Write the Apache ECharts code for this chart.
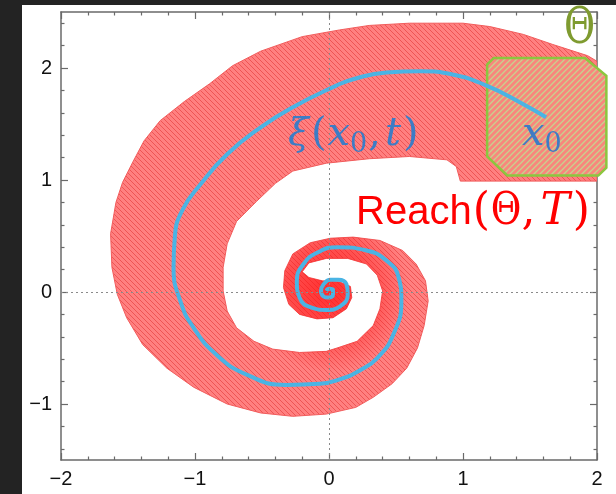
<!DOCTYPE html>
<html>
<head>
<meta charset="utf-8">
<script src="https://cdn.jsdelivr.net/npm/echarts@6/dist/echarts.min.js"></script>
<style>html,body{margin:0;padding:0;background:#232323;}#c{width:616px;height:494px;}</style>
</head>
<body>
<div id="c"></div>
<script>
// ---- tick labels ----
const xTicks = [-2, -1, 0, 1, 2];
const xMinorTicks = [-1.8,-1.6,-1.4,-1.2,-0.8,-0.6,-0.4,-0.2,0.2,0.4,0.6,0.8,1.2,1.4,1.6,1.8];
const yTicks = [-1, 0, 1, 2];
const yMinorTicks = [-1.4,-1.2,-0.8,-0.6,-0.4,-0.2,0.2,0.4,0.6,0.8,1.2,1.4,1.6,1.8,2.2,2.4];

// ---- reach set boundary: outer edge (from start, inward) ----
const reachOuter = [
  [2.00, 2.06],[1.93, 2.11],[1.80, 2.16],[1.67, 2.21],[1.45, 2.30],[1.20, 2.37],[1.00, 2.40],
  [0.60, 2.40],[0.30, 2.38],[0.08, 2.34],[-0.20, 2.28],[-0.51, 2.15],[-0.72, 2.02],[-0.89, 1.86],
  [-1.08, 1.70],[-1.26, 1.53],[-1.38, 1.35],[-1.46, 1.17],[-1.54, 0.98],[-1.59, 0.80],[-1.63, 0.52],
  [-1.62, 0.22],[-1.58, -0.02],[-1.51, -0.23],[-1.39, -0.47],[-1.21, -0.68],[-1.01, -0.85],
  [-0.76, -1.00],[-0.51, -1.08],[-0.27, -1.11],[-0.02, -1.09],[0.20, -1.03],[0.33, -0.94],
  [0.47, -0.82],[0.58, -0.68],[0.66, -0.50],[0.71, -0.30],[0.74, -0.08],[0.72, 0.10],[0.65, 0.25],
  [0.55, 0.37],[0.38, 0.46],[0.18, 0.49],[0.01, 0.48],[-0.14, 0.44],[-0.27, 0.34],[-0.33, 0.19],
  [-0.34, 0.04],[-0.30, -0.11],[-0.22, -0.20],[-0.09, -0.24],[0.03, -0.23],[0.13, -0.15],
  [0.17, -0.05],[0.16, 0.05],[0.08, 0.09],[-0.05, 0.10],[-0.15, 0.13],[-0.20, 0.18]
];
// ---- reach set boundary: inner edge (from the tip, outward) ----
const reachInner = [
  [-0.15, 0.26],[-0.02, 0.30],[0.14, 0.30],[0.28, 0.25],[0.36, 0.15],[0.40, 0.01],[0.38, -0.15],
  [0.33, -0.30],[0.21, -0.44],[0.06, -0.50],[-0.02, -0.53],[-0.22, -0.54],[-0.42, -0.51],
  [-0.56, -0.44],[-0.69, -0.32],[-0.76, -0.17],[-0.79, 0.01],[-0.79, 0.22],[-0.76, 0.43],
  [-0.69, 0.63],[-0.54, 0.81],[-0.40, 0.97],[-0.27, 1.08],[-0.02, 1.15],[0.30, 1.19],[0.60, 1.21],
  [0.88, 1.18],[0.95, 1.12],[0.98, 0.99],[2.00, 0.99]
];
// ---- initial set Theta (octagon) ----
const thetaSet = [
  [1.23, 2.09],[1.91, 2.09],[2.07, 1.93],[2.07, 1.11],[2.01, 1.04],[1.33, 1.04],[1.18, 1.21],[1.18, 2.03]
];
// ---- trajectory xi(x0,t) ----
const trajectory = [
  [1.62, 1.56],[1.43, 1.69],[1.18, 1.84],[0.93, 1.94],[0.68, 1.97],[0.43, 1.96],[0.18, 1.90],
  [0.05, 1.84],[-0.27, 1.65],[-0.51, 1.47],[-0.76, 1.23],[-0.96, 0.96],[-1.09, 0.74],[-1.15, 0.50],
  [-1.16, 0.22],[-1.11, -0.08],[-1.01, -0.32],[-0.84, -0.56],[-0.61, -0.74],[-0.32, -0.83],
  [-0.07, -0.82],[0.08, -0.78],[0.23, -0.70],[0.36, -0.59],[0.48, -0.38],[0.54, -0.08],[0.52, 0.13],
  [0.43, 0.28],[0.28, 0.37],[0.06, 0.40],[-0.09, 0.35],[-0.19, 0.25],[-0.24, 0.10],[-0.22, -0.05],
  [-0.13, -0.14],[-0.02, -0.16],[0.08, -0.13],[0.14, -0.02],[0.13, 0.07],[0.07, 0.11],[0.01, 0.11],
  [-0.04, 0.07],[-0.06, 0.01],[-0.04, -0.04],[-0.01, -0.05],[0.03, -0.02],[0.03, 0.02],[0.00, 0.03],
  [-0.02, 0.01]
];

const reachPolygon = reachOuter.concat(reachInner);

function hatch(size, bg, fg, lw, dir) {
  const c = document.createElement('canvas');
  c.width = size; c.height = size;
  const g = c.getContext('2d');
  g.fillStyle = bg; g.fillRect(0, 0, size, size);
  g.strokeStyle = fg; g.lineWidth = lw;
  g.beginPath();
  if (dir === 'back') {
    g.moveTo(-1, -1); g.lineTo(size + 1, size + 1);
    g.moveTo(-1, size - 1); g.lineTo(1, size + 1);
    g.moveTo(size - 1, -1); g.lineTo(size + 1, 1);
  } else {
    g.moveTo(-1, size + 1); g.lineTo(size + 1, -1);
    g.moveTo(-1, 1); g.lineTo(1, -1);
    g.moveTo(size - 1, size + 1); g.lineTo(size + 1, size - 1);
  }
  g.stroke();
  return c;
}
const reachFill = {image: hatch(5, '#ff8080', '#ee5454', 1.0, 'back'), repeat: 'repeat'};
const thetaFill = {image: hatch(6, '#f8877c', '#c9cf8e', 1.4, 'fwd'), repeat: 'repeat'};

function polygonRenderer(points, style) {
  return function (params, api) {
    if (params.dataIndex !== 0) return null;
    const s = typeof style === 'function' ? style(api) : style;
    return {type: 'polygon', shape: {points: points.map(p => api.coord(p))}, style: s};
  };
}
// denser red toward the spiral's centre (the hatching there is much tighter)
function coreStyle(api) {
  const c = api.coord([0, 0]);
  return {fill: {type: 'radial', x: c[0], y: c[1], r: 80, global: true,
    colorStops: [{offset: 0, color: 'rgba(255,20,20,0.75)'}, {offset: 0.55, color: 'rgba(255,20,20,0.45)'},
                 {offset: 1, color: 'rgba(255,20,20,0)'}]}};
}

const axisColor = '#6a6a6a';
const fmt = v => (v < 0 ? '\u2212' + Math.abs(v) : String(v));
const labelStyle = {fontFamily: 'Liberation Sans', fontSize: 20, color: '#111111', formatter: fmt};

function mkAxis(kind, position, major, showLabel) {
  const isX = kind === 'x';
  return {
    type: 'value', position: position,
    min: isX ? -2 : -1.5, max: isX ? 2 : 2.5,
    axisLine: {show: major, onZero: false, lineStyle: {color: axisColor, width: 1.5}},
    axisTick: {show: true, inside: true, length: major ? 7 : 3.5,
      customValues: major ? (isX ? xTicks : yTicks) : (isX ? xMinorTicks : yMinorTicks),
      lineStyle: {color: axisColor, width: 1.2}},
    axisLabel: showLabel ? Object.assign({show: true, margin: 9, customValues: isX ? xTicks : yTicks}, labelStyle) : {show: false},
    splitLine: {show: false}
  };
}

// text layout helper (measures pieces so they flow like one formula)
const mctx = document.createElement('canvas').getContext('2d');
function formula(parts, x0, y, color) {
  const els = []; let x = x0;
  parts.forEach(p => {
    const font = (p.italic ? 'italic ' : '') + p.size + 'px ' + p.family;
    mctx.font = font;
    const w = mctx.measureText(p.t).width;
    const el = {type: 'text', x: x, y: y + (p.dy || 0), z: 100,
      style: {text: p.t, font: font, fill: color, align: 'left', verticalAlign: 'middle'}};
    if (p.sx) { el.scaleX = p.sx; }
    els.push(el);
    x += w * (p.sx || 1) + (p.gap || 0);
  });
  return els;
}
const SERIF = '"DejaVu Serif"';
const SANS = '"Liberation Sans"';

const texts = [].concat(
  formula([{t: '\u0398', size: 50, family: SERIF, sx: 0.76}], 564, 30, '#7f9b30'),
  formula([
    {t: 'Reach', size: 40, family: SANS, gap: 1},
    {t: '(', size: 44, family: SERIF, gap: 1},
    {t: '\u0398', size: 44, family: SERIF, sx: 0.85},
    {t: ',', size: 44, family: SERIF, gap: 5},
    {t: 'T', size: 44, family: SERIF, italic: true, gap: 3},
    {t: ')', size: 44, family: SERIF}
  ], 356, 213, '#ff0000'),
  formula([
    {t: '\u03be', size: 38, family: SERIF, italic: true, gap: 2},
    {t: '(', size: 40, family: SERIF, gap: 1},
    {t: 'x', size: 40, family: SERIF, italic: true},
    {t: '0', size: 27, family: SERIF, dy: 10, gap: 1},
    {t: ',', size: 40, family: SERIF, gap: 4},
    {t: 't', size: 40, family: SERIF, italic: true, gap: 2},
    {t: ')', size: 40, family: SERIF}
  ], 288, 135, '#3d7cc5'),
  formula([
    {t: 'x', size: 40, family: SERIF, italic: true},
    {t: '0', size: 27, family: SERIF, dy: 10}
  ], 522, 135, '#3d7cc5')
);

const chart = echarts.init(document.getElementById('c'), null, {renderer: 'canvas'});
chart.setOption({
  backgroundColor: '#232323',
  animation: false,
  grid: {left: 61, right: 19, top: 12, bottom: 34},
  xAxis: [mkAxis('x', 'bottom', true, true), mkAxis('x', 'bottom', false, false),
          mkAxis('x', 'top', true, false), mkAxis('x', 'top', false, false)],
  yAxis: [mkAxis('y', 'left', true, true), mkAxis('y', 'left', false, false),
          mkAxis('y', 'right', true, false), mkAxis('y', 'right', false, false)],
  graphic: [{type: 'rect', shape: {x: 22, y: 5, width: 600, height: 495}, style: {fill: '#ffffff'}, z: -100, silent: true}].concat(texts),
  series: [
    {type: 'line', data: [], z: 1, silent: true,
      markLine: {silent: true, symbol: 'none', label: {show: false},
        lineStyle: {type: [2, 3], color: '#8a8a8a', width: 1},
        data: [{xAxis: 0}, {yAxis: 0}]}},
    {type: 'custom', z: 2, clip: true, silent: true, data: reachPolygon,
      renderItem: polygonRenderer(reachPolygon, {fill: reachFill, stroke: '#f25c5c', lineWidth: 1})},
    {type: 'custom', z: 2.5, clip: true, silent: true, data: reachPolygon,
      renderItem: polygonRenderer(reachPolygon, coreStyle)},
    {type: 'custom', z: 3, clip: false, silent: true, data: thetaSet,
      renderItem: polygonRenderer(thetaSet, {fill: thetaFill, stroke: '#8cc63f', lineWidth: 2.5})},
    {type: 'line', z: 4, data: trajectory, smooth: 0.5, symbol: 'none', silent: true,
      lineStyle: {color: '#4ab4e4', width: 4}}
  ]
});
</script>
</body>
</html>
